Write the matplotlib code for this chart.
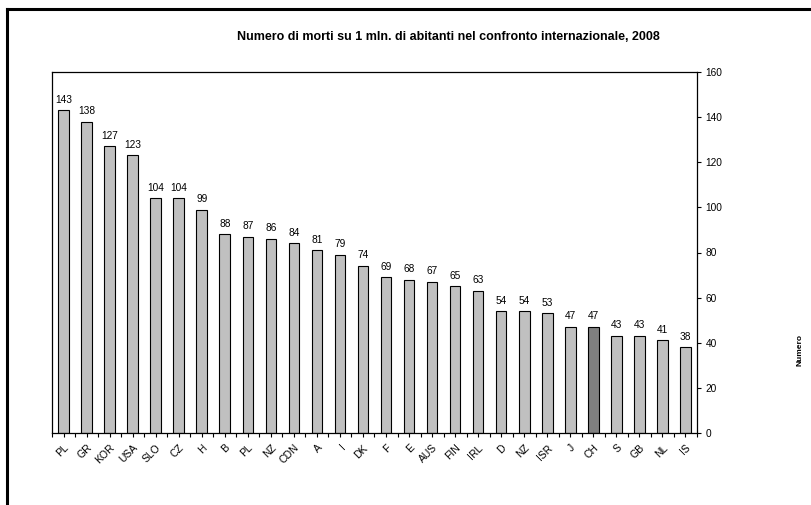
import matplotlib.pyplot as plt
import numpy as np
from matplotlib.lines import Line2D

plt.rcParams["font.family"] = ["Liberation Sans", "DejaVu Sans"]

countries = ["PL", "GR", "KOR", "USA", "SLO", "CZ", "H", "B", "PL", "NZ",
             "CDN", "A", "I", "DK", "F", "E", "AUS", "FIN", "IRL", "D",
             "NZ", "ISR", "J", "CH", "S", "GB", "NL", "IS"]
deaths = [143, 138, 127, 123, 104, 104, 99, 88, 87, 86,
          84, 81, 79, 74, 69, 68, 67, 65, 63, 54,
          54, 53, 47, 47, 43, 43, 41, 38]
highlight = "CH"

fig = plt.figure(figsize=(8.12, 5.05), dpi=100)
ax = fig.add_axes([52 / 812, 1 - 433 / 505, 645 / 812, 361 / 505])

x = np.arange(len(countries))
colors = ["#808080" if c == highlight else "#c0c0c0" for c in countries]
ax.bar(x, deaths, width=0.46, color=colors, edgecolor="black", linewidth=0.8)

for xi, v in zip(x, deaths):
    ax.text(xi, v + 2.5, str(v), ha="center", va="bottom", fontsize=7.3)

ax.set_xlim(-0.5, len(countries) - 0.5)
ax.set_ylim(0, 160)
ax.set_yticks(np.arange(0, 161, 20))
ax.yaxis.tick_right()
ax.tick_params(axis="y", direction="out", length=3, width=0.8, labelsize=7.3, pad=3)

ax.set_xticks(x)
ax.set_xticks(np.arange(-0.5, len(countries), 1), minor=True)
ax.set_xticklabels(countries, rotation=45, ha="right", rotation_mode="anchor", fontsize=7.5)
ax.tick_params(axis="x", which="both", direction="out", length=3, width=0.8, pad=4)

for s in ax.spines.values():
    s.set_linewidth(0.9)

fig.text(448 / 812, 1 - 37 / 505, "Numero di morti su 1 mln. di abitanti nel confronto internazionale, 2008",
         ha="center", va="center", fontsize=9, fontweight="bold")
fig.text(800 / 812, 1 - 350 / 505, "Numero", rotation=90, ha="center", va="center",
         fontsize=6, fontweight="bold")

# outer frame: top and left edges only
fig.add_artist(Line2D([7 / 812, 1], [1 - 9 / 505, 1 - 9 / 505], color="black", linewidth=2.2,
                      transform=fig.transFigure))
fig.add_artist(Line2D([7 / 812, 7 / 812], [0, 1 - 9 / 505], color="black", linewidth=2.2,
                      transform=fig.transFigure))

fig.savefig("out.png", dpi=100)
